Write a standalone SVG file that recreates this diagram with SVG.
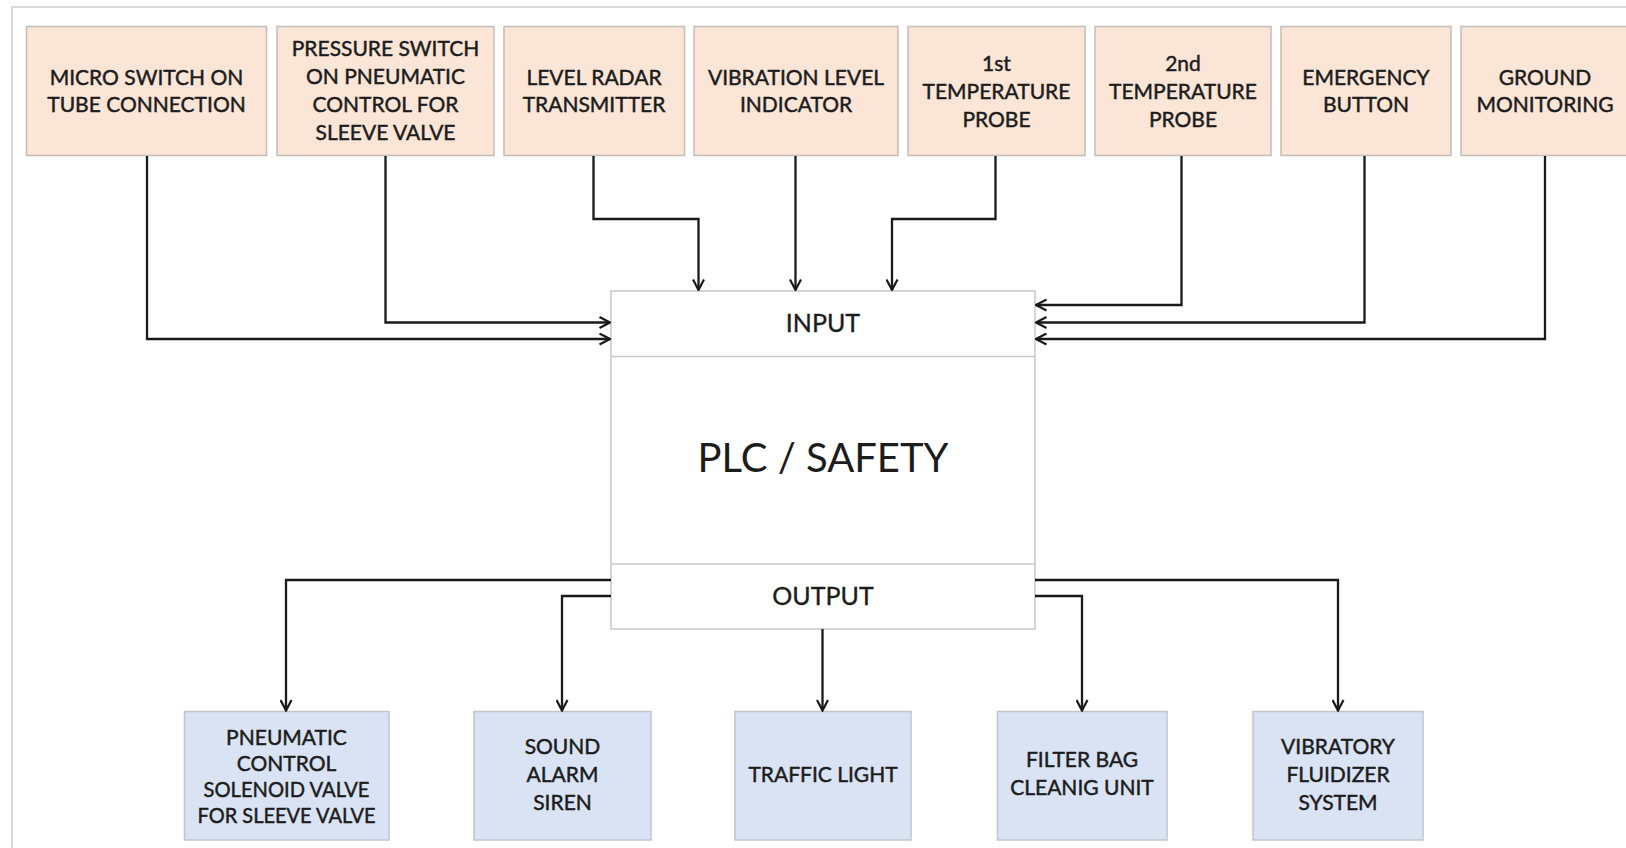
<svg xmlns="http://www.w3.org/2000/svg" width="1626" height="848" viewBox="0 0 1626 848">
  <defs>
    <marker id="arr" viewBox="0 0 13 13" refX="12" refY="6.5" markerWidth="13" markerHeight="13" markerUnits="userSpaceOnUse" orient="auto">
      <path d="M1.5,1 L12,6.5 L1.5,12" fill="none" stroke="#1a1a1a" stroke-width="2.2"/>
    </marker>
    <style>
      text { font-family: "Lato", "Liberation Sans", sans-serif; fill: #1c1c1c; text-anchor: middle; }
      .lbl { font-size: 21px; stroke: #1c1c1c; stroke-width: 0.45; }
      .in { fill: #fbe5d6; stroke: #c4bdb8; stroke-width: 1.5; }
      .out { fill: #dae3f3; stroke: #c0c4cc; stroke-width: 1.5; }
      .plc { fill: #ffffff; stroke: #c8c8c8; stroke-width: 1.5; }
      .sec { font-size: 25px; stroke: #1c1c1c; stroke-width: 0.35; }
      .main { font-size: 40px; }
      .wire { fill: none; stroke: #1a1a1a; stroke-width: 2.3; marker-end: url(#arr); }
    </style>
  </defs>

  <rect width="1626" height="848" fill="#ffffff"/>
  <!-- page frame -->
  <path d="M12,848 V7 H1626" fill="none" stroke="#d9d9d9" stroke-width="2"/>

  <!-- input devices -->
  <g id="micro-switch">
    <rect class="in" x="26.5" y="26.5" width="240" height="129"/>
    <text class="lbl" x="146.5" y="84.5">MICRO SWITCH ON</text>
    <text class="lbl" x="146.5" y="112">TUBE CONNECTION</text>
  </g>
  <g id="pressure-switch">
    <rect class="in" x="277" y="26.5" width="217" height="129"/>
    <text class="lbl" x="385.5" y="56">PRESSURE SWITCH</text>
    <text class="lbl" x="385.5" y="84">ON PNEUMATIC</text>
    <text class="lbl" x="385.5" y="112">CONTROL FOR</text>
    <text class="lbl" x="385.5" y="140">SLEEVE VALVE</text>
  </g>
  <g id="level-radar">
    <rect class="in" x="504" y="26.5" width="180.5" height="129"/>
    <text class="lbl" x="594" y="84.5">LEVEL RADAR</text>
    <text class="lbl" x="594" y="112">TRANSMITTER</text>
  </g>
  <g id="vibration-level">
    <rect class="in" x="694" y="26.5" width="204" height="129"/>
    <text class="lbl" x="796" y="84.5">VIBRATION LEVEL</text>
    <text class="lbl" x="796" y="112">INDICATOR</text>
  </g>
  <g id="temp-probe-1">
    <rect class="in" x="908" y="26.5" width="177" height="129"/>
    <text class="lbl" x="996.5" y="70.5">1st</text>
    <text class="lbl" x="996.5" y="98.5">TEMPERATURE</text>
    <text class="lbl" x="996.5" y="126.5">PROBE</text>
  </g>
  <g id="temp-probe-2">
    <rect class="in" x="1095" y="26.5" width="176" height="129"/>
    <text class="lbl" x="1183" y="70.5">2nd</text>
    <text class="lbl" x="1183" y="98.5">TEMPERATURE</text>
    <text class="lbl" x="1183" y="126.5">PROBE</text>
  </g>
  <g id="emergency-button">
    <rect class="in" x="1281" y="26.5" width="170" height="129"/>
    <text class="lbl" x="1366" y="84.5">EMERGENCY</text>
    <text class="lbl" x="1366" y="112">BUTTON</text>
  </g>
  <g id="ground-monitoring">
    <rect class="in" x="1461" y="26.5" width="170" height="129"/>
    <text class="lbl" x="1545" y="84.5">GROUND</text>
    <text class="lbl" x="1545" y="112">MONITORING</text>
  </g>

  <!-- controller -->
  <g id="plc">
    <rect class="plc" x="611" y="291" width="424" height="338"/>
    <line x1="611" y1="356.5" x2="1035" y2="356.5" stroke="#c8c8c8" stroke-width="1.5"/>
    <line x1="611" y1="564" x2="1035" y2="564" stroke="#c8c8c8" stroke-width="1.5"/>
    <text class="sec" x="823" y="331.5">INPUT</text>
    <text class="main" x="823" y="471.5">PLC / SAFETY</text>
    <text class="sec" x="823" y="605">OUTPUT</text>
  </g>

  <!-- output devices -->
  <g id="solenoid-valve">
    <rect class="out" x="184.5" y="711.5" width="204.5" height="128.5"/>
    <text class="lbl" x="286.5" y="744.5">PNEUMATIC</text>
    <text class="lbl" x="286.5" y="770.5">CONTROL</text>
    <text class="lbl" x="286.5" y="796.5" textLength="166" lengthAdjust="spacingAndGlyphs">SOLENOID VALVE</text>
    <text class="lbl" x="286.5" y="822.5" textLength="178" lengthAdjust="spacingAndGlyphs">FOR SLEEVE VALVE</text>
  </g>
  <g id="sound-alarm">
    <rect class="out" x="474" y="711.5" width="177" height="128.5"/>
    <text class="lbl" x="562.5" y="754">SOUND</text>
    <text class="lbl" x="562.5" y="782">ALARM</text>
    <text class="lbl" x="562.5" y="810">SIREN</text>
  </g>
  <g id="traffic-light">
    <rect class="out" x="735" y="711.5" width="176" height="128.5"/>
    <text class="lbl" x="823" y="782">TRAFFIC LIGHT</text>
  </g>
  <g id="filter-bag">
    <rect class="out" x="997.5" y="711.5" width="169.5" height="128.5"/>
    <text class="lbl" x="1082" y="767">FILTER BAG</text>
    <text class="lbl" x="1082" y="795">CLEANIG UNIT</text>
  </g>
  <g id="fluidizer">
    <rect class="out" x="1253" y="711.5" width="170" height="128.5"/>
    <text class="lbl" x="1338" y="754">VIBRATORY</text>
    <text class="lbl" x="1338" y="782">FLUIDIZER</text>
    <text class="lbl" x="1338" y="810">SYSTEM</text>
  </g>

  <!-- wiring -->
  <g id="connectors">
    <path class="wire" d="M147,156 V339 H610"/>
    <path class="wire" d="M385.5,156 V322.5 H610"/>
    <path class="wire" d="M593.5,156 V219 H698.5 V290"/>
    <path class="wire" d="M795.5,156 V290"/>
    <path class="wire" d="M995.5,156 V219 H892 V290"/>
    <path class="wire" d="M1181.5,156 V305 H1036"/>
    <path class="wire" d="M1364.5,156 V322.5 H1036"/>
    <path class="wire" d="M1545,156 V339 H1036"/>

    <path class="wire" d="M611,580 H286 V710.5"/>
    <path class="wire" d="M611,596 H562 V710.5"/>
    <path class="wire" d="M822.5,629 V710.5"/>
    <path class="wire" d="M1035,596 H1082 V710.5"/>
    <path class="wire" d="M1035,580 H1338 V710.5"/>
  </g>
</svg>
